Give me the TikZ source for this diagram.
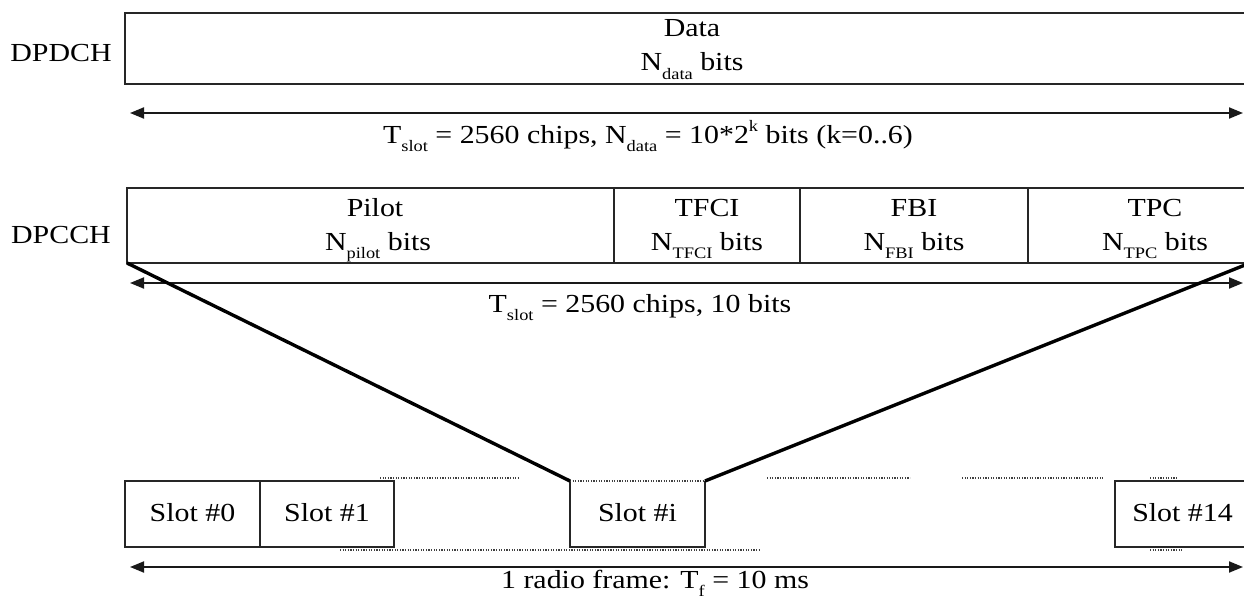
\documentclass[tikz,border=0pt]{standalone}
\usepackage{fontspec}
\setmainfont{Liberation Serif}[FakeStretch=1.15]
\usetikzlibrary{arrows.meta}
\newcommand{\sbs}[1]{\raisebox{-0.32em}{\fontsize{16}{16}\selectfont #1}}
\newcommand{\sps}[1]{\raisebox{0.45em}{\fontsize{16}{16}\selectfont #1}}
\begin{document}
\begin{tikzpicture}[x=1pt,y=-1pt,
  frame/.style={draw=black!85, line width=1.9pt, inner sep=0pt, outer sep=0pt},
  cell/.style={inner sep=0pt, outer sep=0pt},
  txt/.style={anchor=base, inner sep=0pt, font=\fontsize{26}{30}\selectfont},
  dimline/.style={line width=1.9pt, draw=black!90, {Triangle[length=14pt,width=11pt]}-{Triangle[length=14pt,width=11pt]}},
  fan/.style={line width=3.4pt, draw=black},
  dotline/.style={draw=black!75, line width=1.2pt, dash pattern=on 1.2pt off 1.4pt}]
\useasboundingbox (0,0) rectangle (1244,599);
\clip (0,0) rectangle (1244,599);

% DPDCH
\node[txt] (lbldpdch) at (61,62) {DPDCH};
\node[frame, minimum width=1125pt, minimum height=71pt, anchor=north west] (data) at (125,13) {};
\node[txt] (datat) at (692,37) {Data};
\node[txt] (datab) at (692,71) {N\sbs{data} bits};
\coordinate (a1l) at (130,113);
\coordinate (a1r) at (1243,113);
\draw[dimline] (a1l) -- (a1r);
\node[txt] (lbl1) at (648,143) {T\sbs{slot} = 2560 chips, N\sbs{data} = 10*2\sps{k} bits (k=0..6)};

% DPCCH
\node[txt] (lbldpcch) at (61,243) {DPCCH};
\node[frame, minimum width=487pt, minimum height=75pt, anchor=north west] (pilot) at (127,188) {};
\node[frame, minimum width=186pt, minimum height=75pt, anchor=north west] (tfci) at (614,188) {};
\node[frame, minimum width=228pt, minimum height=75pt, anchor=north west] (fbi) at (800,188) {};
\node[frame, minimum width=222pt, minimum height=75pt, anchor=north west] (tpc) at (1028,188) {};
\node[txt] (pilott) at (375,216) {Pilot};
\node[txt] (pilotb) at (378,250) {N\sbs{pilot} bits};
\node[txt] (tfcit) at (707,216) {TFCI};
\node[txt] (tfcib) at (707,250) {N\sbs{TFCI} bits};
\node[txt] (fbit) at (914,216) {FBI};
\node[txt] (fbib) at (914,250) {N\sbs{FBI} bits};
\node[txt] (tpct) at (1155,216) {TPC};
\node[txt] (tpcb) at (1155,250) {N\sbs{TPC} bits};
\coordinate (a2l) at (130,283);
\coordinate (a2r) at (1243,283);
\draw[dimline] (a2l) -- (a2r);
\node[txt] (lbl2) at (640,312) {T\sbs{slot} = 2560 chips, 10 bits};

% slots
\node[frame, minimum width=135pt, minimum height=66pt, anchor=north west] (s0) at (125,481) {};
\node[frame, minimum width=134pt, minimum height=66pt, anchor=north west] (s1) at (260,481) {};
\node[cell, minimum width=135pt, minimum height=66pt, anchor=north west] (si) at (570,481) {};
\draw[frame] (si.north west) -- (si.south west) -- (si.south east) -- (si.north east);
\draw[dotline] (si.north west) -- (si.north east);
\node[frame, minimum width=135pt, minimum height=66pt, anchor=north west] (s14) at (1115,481) {};
\node[txt] (s0t) at (s0.center) [yshift=-7pt] {Slot \#0};
\node[txt] (s1t) at (s1.center) [yshift=-7pt] {Slot \#1};
\node[txt] (sit) at (si.center) [yshift=-7pt] {Slot \#i};
\node[txt] (s14t) at (s14.center) [yshift=-7pt] {Slot \#14};

% fan lines
\draw[fan] (pilot.south west) -- (si.north west);
\draw[fan] (tpc.south east) -- (si.north east);

% dotted continuation lines
\coordinate (d1a) at (380,478); \coordinate (d1b) at (520,478);
\coordinate (d2a) at (767,478); \coordinate (d2b) at (910,478);
\coordinate (d3a) at (962,478); \coordinate (d3b) at (1103,478);
\coordinate (d4a) at (1150,478); \coordinate (d4b) at (1177,478);
\coordinate (d5a) at (340,550); \coordinate (d5b) at (760,550);
\coordinate (d6a) at (1150,550); \coordinate (d6b) at (1183,550);
\draw[dotline] (d1a) -- (d1b);
\draw[dotline] (d2a) -- (d2b);
\draw[dotline] (d3a) -- (d3b);
\draw[dotline] (d4a) -- (d4b);
\draw[dotline] (d5a) -- (d5b);
\draw[dotline] (d6a) -- (d6b);

\coordinate (a3l) at (130,567);
\coordinate (a3r) at (1243,567);
\draw[dimline] (a3l) -- (a3r);
\node[txt] (lbl3) at (655,588) {1 radio frame: T\sbs{f} = 10 ms};
\end{tikzpicture}
\end{document}
